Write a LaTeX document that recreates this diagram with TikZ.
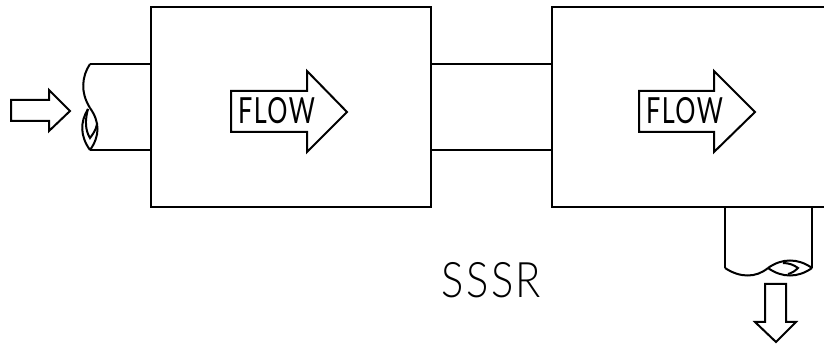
\documentclass[tikz,border=0pt]{standalone}
\usepackage{fontspec}
\newfontfamily\drawfont[LetterSpace=6]{Lato Light}
\newfontfamily\flowfont[LetterSpace=6]{Lato}
\tikzset{
	wall/.style={line width=2pt,line join=miter},
	flowtext/.style={font=\flowfont\fontsize{36}{36}\selectfont,inner sep=0pt,transform shape,xscale=0.7},
	nametext/.style={font=\drawfont\fontsize{49}{49}\selectfont,inner sep=0pt,transform shape,xscale=0.85}
}
\begin{document}
\begin{tikzpicture}[x=1pt,y=-1pt]
	\useasboundingbox (0,0) rectangle (824,344);
	% boxes
	\draw[wall] (151,7) rectangle (431,207);
	\draw[wall] (824,7)--(552,7)--(552,207)--(824,207);
	% pipes
	\draw[wall] (90,64)--(151,64);
	\draw[wall] (90,150)--(151,150);
	\draw[wall] (431,64)--(552,64);
	\draw[wall] (431,150)--(552,150);
	\draw[wall] (725,207)--(725,268);
	\draw[wall] (812,207)--(812,268);
	% pipe break, left
	\draw[wall] (90,64) .. controls (82,76) and (80,92) .. (90,108);
	\draw[wall] (90,108) .. controls (100,122) and (100,136) .. (90,150);
	\draw[wall] (90,150) .. controls (80,136) and (80,122) .. (88,109);
	\draw[wall] (88,109) .. controls (85,120) and (85,130) .. (90,138) .. controls (93,134) and (96,130) .. (97,124);
	% pipe break, bottom
	\draw[wall] (725,268) .. controls (740,278) and (756,278) .. (768,268);
	\draw[wall] (768,268) .. controls (782,258) and (798,258) .. (812,268);
	\draw[wall] (812,268) .. controls (798,278) and (782,278) .. (768,268);
	\draw[wall] (783,263) .. controls (789,263) and (794,265) .. (798,268) .. controls (795,271) and (792,273) .. (788,274);
	% arrows
	\draw[wall] (11,100)--(49,100)--(49,90)--(70,111)--(49,131)--(49,121)--(11,121)--cycle;
	\draw[wall] (765,284)--(786,284)--(786,322)--(796,322)--(776,342)--(755,322)--(765,322)--cycle;
	\draw[wall] (231,91)--(307,91)--(307,71)--(347,112)--(307,152)--(307,132)--(231,132)--cycle;
	\draw[wall] (639,91)--(714,91)--(714,71)--(755,112)--(714,152)--(714,132)--(639,132)--cycle;
	% labels
	\node[flowtext] (flowa) at (276.5,111) {FLOW};
	\node[flowtext] (flowb) at (684.5,111) {FLOW};
	\node[nametext] (name) at (491.5,280.5) {SSSR};
\end{tikzpicture}
\end{document}
